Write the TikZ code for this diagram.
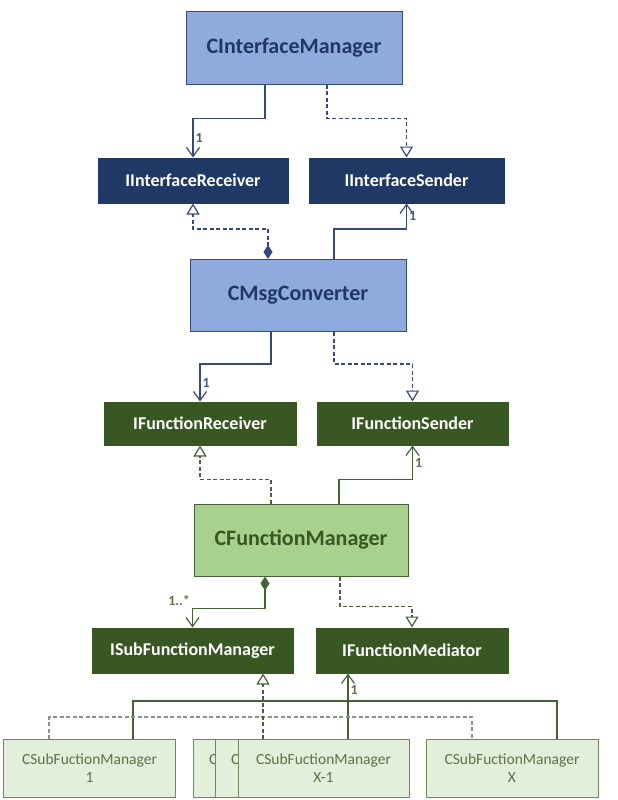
\documentclass[tikz,border=0pt]{standalone}
\usepackage{fontspec}
\setmainfont{Carlito}
\usetikzlibrary{arrows.meta, positioning}

\definecolor{blueFill}{HTML}{8FAADC}
\definecolor{blueLine}{HTML}{36497A}
\definecolor{navy}{HTML}{203864}
\definecolor{darkGreen}{HTML}{385723}
\definecolor{lightGreen}{HTML}{A9D18E}
\definecolor{paleGreen}{HTML}{E2EFDA}
\definecolor{greenLine}{HTML}{46613A}
\definecolor{paleLine}{HTML}{6E8A5C}
\definecolor{busGray}{HTML}{8A9482}
\definecolor{labelBlue}{HTML}{4A5A80}
\definecolor{labelGreen}{HTML}{5A7348}

\begin{document}
\begin{tikzpicture}[
    x=1pt, y=-1pt,
    class/.style={rectangle, draw, line width=1pt, inner sep=0pt, align=center, font=\fontsize{22}{26}\selectfont\bfseries},
    mgr/.style={class, fill=blueFill, draw=blueLine, text=navy, minimum width=216pt, minimum height=72pt},
    fmgr/.style={mgr, fill=lightGreen, draw=greenLine, text=darkGreen, minimum width=214pt},
    iface/.style={class, fill=navy, draw=navy, text=white, minimum height=45pt, font=\fontsize{18}{22}\selectfont\bfseries},
    fiface/.style={iface, fill=darkGreen, draw=darkGreen},
    sub/.style={class, fill=paleGreen, draw=paleLine, text=labelGreen, minimum width=172pt, minimum height=58pt, font=\fontsize{15.5}{18}\selectfont},
    subback/.style={sub, minimum width=171pt, text width=139pt, align=left},
    line/.style={line width=1.2pt},
    arrow/.style={line, arrows={-Straight Barb[length=9pt,width=13pt]}},
    inherit/.style={line, dash pattern=on 4pt off 2.5pt, arrows={-Triangle[open,length=11pt,width=13pt,fill=white]}},
    compose/.style={line, arrows={Diamond[length=14pt,width=9pt]-Straight Barb[length=9pt,width=13pt]}},
    aggdash/.style={inherit, arrows={Diamond[length=14pt,width=9pt]-Triangle[open,length=11pt,width=13pt,fill=white]}},
    lbl/.style={font=\fontsize{14}{16}\selectfont\bfseries, inner sep=2pt}
]
    \useasboundingbox (0,0) rectangle (618,800);

    % Main classes
    \node[mgr] (cim) at (294,48) {CInterfaceManager};
    \node[iface, minimum width=190pt] (irecv) at (193,180.5) {IInterfaceReceiver};
    \node[iface, minimum width=195pt, right=20pt of irecv] (isend) {IInterfaceSender};

    \node[mgr] (cmc) at (298,295.5) {CMsgConverter};
    \node[fiface, minimum width=192pt, minimum height=43pt] (frecv) at (200,423.5) {IFunctionReceiver};
    \node[fiface, minimum width=191pt, minimum height=43pt, right=20pt of frecv] (fsend) {IFunctionSender};

    \node[fmgr] (cfm) at (301,540) {CFunctionManager};
    \node[fiface, minimum width=201pt] (isfm) at (192.5,650.5) {ISubFunctionManager};
    \node[fiface, minimum width=192pt, right=22pt of isfm] (fmed) {IFunctionMediator};

    % Sub managers (stacked ones show only their first letter)
    \node[sub] (sub1) at (89.5,768.5) {CSubFuctionManager\\1};
    \node[subback] (subA) at (278.5,768.5) {C\\~};
    \node[subback] (subB) at (300.5,768.5) {C\\~};
    \node[sub, minimum width=171pt] (subC) at (323.5,768.5) {CSubFuctionManager\\X-1};
    \node[sub] (subX) at (512,768.5) {CSubFuctionManager\\X};

    % Relationships
    \draw[arrow, blueLine] ([xshift=-29pt]cim.south) -- ++(0,34) -| node[lbl, pos=0.75, right, text=labelBlue] {1} (irecv.north);
    \draw[inherit, blueLine] ([xshift=33pt]cim.south) -- ++(0,34) -| (isend.north);
    \draw[aggdash, blueLine] ([xshift=-30pt]cmc.north) -- ++(0,-30) -| (irecv.south);
    \draw[arrow, blueLine] ([xshift=36pt]cmc.north) -- ++(0,-30) -| node[lbl, pos=0.75, right, text=labelBlue] {1} (isend.south);
    \draw[arrow, blueLine] ([xshift=-27pt]cmc.south) -- ++(0,32) -| node[lbl, pos=0.75, right, text=labelBlue] {1} (frecv.north);
    \draw[inherit, blueLine] ([xshift=36pt]cmc.south) -- ++(0,32) -| (fsend.north);

    \draw[inherit, greenLine] ([xshift=-30pt]cfm.north) -- ++(0,-24) -| (frecv.south);
    \draw[arrow, greenLine] ([xshift=38pt]cfm.north) -- ++(0,-24) -| node[lbl, pos=0.75, right, text=labelGreen] {1} (fsend.south);
    \draw[compose, greenLine] ([xshift=-36pt]cfm.south) -- ++(0,32) -| node[lbl, pos=0.5, above left, text=labelGreen] {1..*} (isfm.north);
    \draw[inherit, greenLine] ([xshift=39pt]cfm.south) -- ++(0,30) -| (fmed.north);

    \draw[arrow, greenLine] ([xshift=24.5pt]subC.north) -- node[lbl, pos=0.75, right, text=labelGreen] {1} ([xshift=24.5pt]subC.north |- fmed.south);
    \draw[line, greenLine] ([xshift=43.5pt]sub1.north) -- ++(0,-38) -| ([xshift=45pt]subX.north);
    \draw[line, busGray, dash pattern=on 4pt off 2.5pt] ([xshift=-40.5pt]sub1.north) -- ++(0,-22) -| ([xshift=-40pt]subX.north);
    \draw[inherit, greenLine] ([xshift=-60.5pt]subC.north) -- ([xshift=-60.5pt]subC.north |- isfm.south);
\end{tikzpicture}
\end{document}
